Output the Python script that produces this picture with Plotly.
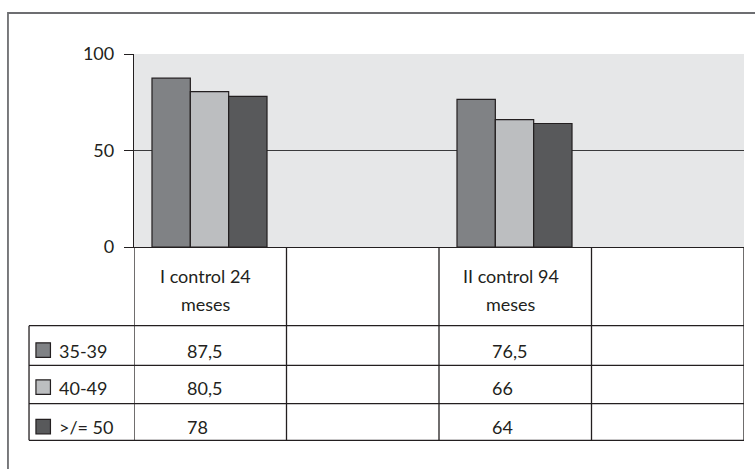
import plotly.graph_objects as go

# ---- data ----
categories = ["I control 24<br>meses", "", "II control 94<br>meses", ""]
series_names = ["35-39", "40-49", ">/= 50"]
vals_35_39 = [87.5, None, 76.5, None]
vals_40_49 = [80.5, None, 66, None]
vals_50 = [78, None, 64, None]
y_ticks = [0, 50, 100]

series_values = [vals_35_39, vals_40_49, vals_50]
colors = ["#808285", "#bcbec0", "#58595b"]
INK = "#231f20"
FONT = "Lato"
FS = 18

x_pos = list(range(len(categories)))

fig = go.Figure()
bar_w = 0.2514
start = -0.382
for i, (name, vals) in enumerate(zip(series_names, series_values)):
    fig.add_trace(go.Bar(
        x=x_pos, y=vals, name=name,
        width=bar_w, offset=start + i * bar_w,
        marker=dict(color=colors[i], line=dict(color=INK, width=1.2)),
        showlegend=False,
    ))

shapes = []
annotations = []

# outer frame (cropped at right/bottom)
shapes.append(dict(type="rect", xref="paper", yref="paper",
                   x0=-0.2066, x1=1.3, y0=-1.6, y1=1.2124,
                   line=dict(color="#6d6e71", width=1.8), layer="below"))

# table geometry (paper y)
hdr_bot = -0.4078
row_lines = [hdr_bot, -0.6130, -0.8119, -1.0016]
legend_left = -0.1721

for yl in row_lines:
    shapes.append(dict(type="line", xref="paper", yref="paper",
                       x0=legend_left, x1=1.0, y0=yl, y1=yl,
                       line=dict(color=INK, width=1.3)))
# legend column left line
shapes.append(dict(type="line", xref="paper", yref="paper",
                   x0=legend_left, x1=legend_left, y0=hdr_bot, y1=row_lines[-1],
                   line=dict(color=INK, width=1.3)))
# vertical category boundaries
for k in range(len(categories) + 1):
    xb = k - 0.5
    shapes.append(dict(type="line", xref="x", yref="paper",
                       x0=xb, x1=xb, y0=0, y1=row_lines[-1],
                       line=dict(color=INK, width=1.3)))

# header texts
hdr_line_y = [-0.1503, -0.2953]
for i, cat in enumerate(categories):
    if not cat:
        continue
    for j, part in enumerate(cat.split("<br>")):
        annotations.append(dict(x=i - 0.03, xref="x", y=hdr_line_y[j], yref="paper",
                                text=part, showarrow=False, xanchor="center",
                                yanchor="middle", font=dict(family=FONT, size=FS, color=INK)))

# rows: legend + values
row_text_y = [-0.5389, -0.7306, -0.9352]
sq_px = 14.5
px_per_paper_y = 193.0
px_per_paper_x = 610.0
for r, (name, vals) in enumerate(zip(series_names, series_values)):
    yc = row_text_y[r]
    # legend square
    cx = (43.2 - 134) / px_per_paper_x
    hw = sq_px / 2 / px_per_paper_x
    hh = sq_px / 2 / px_per_paper_y
    shapes.append(dict(type="rect", xref="paper", yref="paper",
                       x0=cx - hw, x1=cx + hw, y0=yc - hh + 0.005, y1=yc + hh + 0.005,
                       fillcolor=colors[r], line=dict(color=INK, width=1.2)))
    annotations.append(dict(x=(57 - 134) / px_per_paper_x, xref="paper", y=yc, yref="paper",
                            text=name, showarrow=False, xanchor="left", yanchor="middle",
                            font=dict(family=FONT, size=FS, color=INK)))
    for i, v in enumerate(vals):
        if v is None:
            continue
        txt = f"{v:g}".replace(".", ",")
        annotations.append(dict(x=i - 0.165, xref="x", y=yc, yref="paper",
                                text=txt, showarrow=False, xanchor="left", yanchor="middle",
                                font=dict(family=FONT, size=FS, color=INK)))

fig.update_layout(
    width=755, height=469,
    margin=dict(l=134, r=11, t=54, b=222),
    paper_bgcolor="white",
    plot_bgcolor="#e6e7e8",
    barmode="overlay",
    shapes=shapes,
    annotations=annotations,
    font=dict(family=FONT, size=FS, color=INK),
    xaxis=dict(range=[-0.5, len(categories) - 0.5], showticklabels=False,
               showgrid=False, zeroline=False, showline=True,
               linecolor=INK, linewidth=1.3, ticks="", fixedrange=True),
    yaxis=dict(range=[0, 100], tickvals=y_ticks, ticks="outside", ticklen=9,
               tickcolor=INK, tickwidth=1.2, showgrid=True, gridcolor="#3a3a3c",
               gridwidth=1.2, zeroline=False, showline=True, linecolor=INK,
               linewidth=1.3, ticklabelstandoff=6,
               tickfont=dict(family=FONT, size=FS, color=INK), fixedrange=True),
)

fig.write_html("out.html", config={"displayModeBar": False})
